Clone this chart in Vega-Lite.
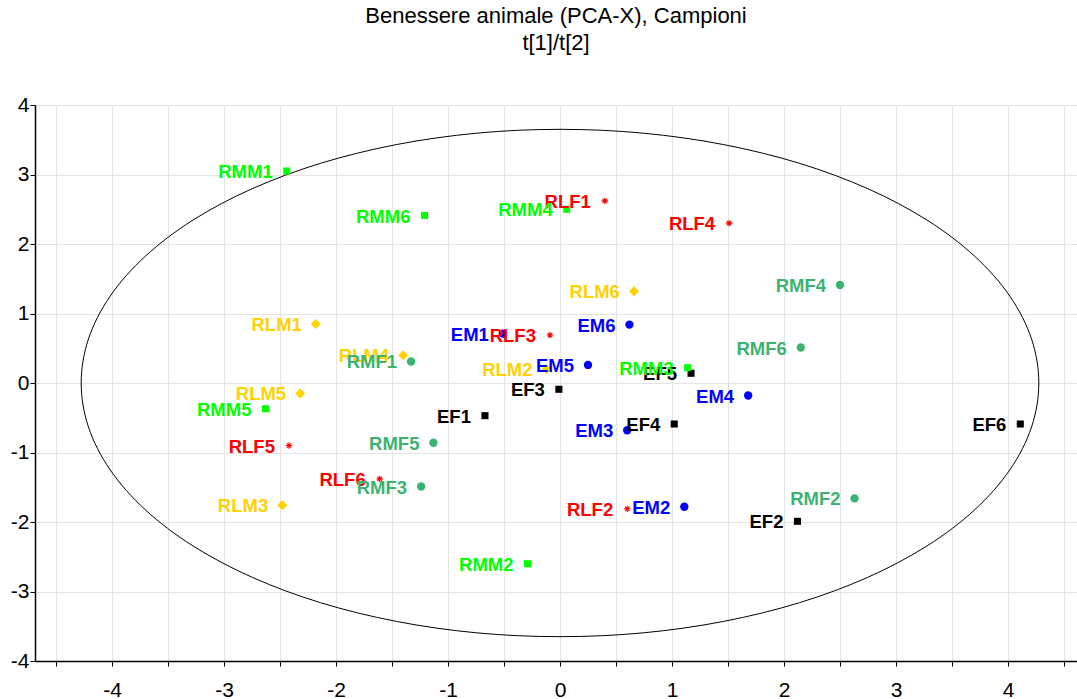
{
  "$schema": "https://vega.github.io/schema/vega-lite/v6.json",
  "width": 1042,
  "height": 556,
  "autosize": {"type": "none"},
  "padding": {"left": 35, "top": 105, "right": 0, "bottom": 38},
  "background": "white",
  "title": {
    "text": ["Benessere animale (PCA-X), Campioni", "t[1]/t[2]"],
    "font": "Liberation Sans",
    "fontSize": 22,
    "fontWeight": "normal",
    "lineHeight": 27,
    "offset": 39,
    "frame": "group",
    "anchor": "middle",
    "color": "black"
  },
  "config": {
    "view": {"stroke": null},
    "axis": {
      "labelFont": "Liberation Sans",
      "labelFontSize": 21,
      "labelColor": "black",
      "domainColor": "black",
      "domainWidth": 1.5,
      "tickColor": "black",
      "tickSize": 5,
      "gridColor": "#e4e4e4",
      "gridWidth": 1
    }
  },
  "datasets": {
    "points": [
      {"label": "EF1", "group": "EF", "x": -0.67, "y": -0.47},
      {"label": "EF2", "group": "EF", "x": 2.12, "y": -1.99},
      {"label": "EF3", "group": "EF", "x": -0.01, "y": -0.09},
      {"label": "EF4", "group": "EF", "x": 1.02, "y": -0.59},
      {"label": "EF5", "group": "EF", "x": 1.17, "y": 0.14},
      {"label": "EF6", "group": "EF", "x": 4.11, "y": -0.59},
      {"label": "EM1", "group": "EM", "x": -0.51, "y": 0.71},
      {"label": "EM2", "group": "EM", "x": 1.11, "y": -1.78},
      {"label": "EM3", "group": "EM", "x": 0.60, "y": -0.68},
      {"label": "EM4", "group": "EM", "x": 1.68, "y": -0.18},
      {"label": "EM5", "group": "EM", "x": 0.25, "y": 0.26},
      {"label": "EM6", "group": "EM", "x": 0.62, "y": 0.84},
      {"label": "RLF1", "group": "RLF", "x": 0.40, "y": 2.62},
      {"label": "RLF2", "group": "RLF", "x": 0.60, "y": -1.81},
      {"label": "RLF3", "group": "RLF", "x": -0.09, "y": 0.69},
      {"label": "RLF4", "group": "RLF", "x": 1.51, "y": 2.30},
      {"label": "RLF5", "group": "RLF", "x": -2.42, "y": -0.90},
      {"label": "RLF6", "group": "RLF", "x": -1.61, "y": -1.38},
      {"label": "RLM1", "group": "RLM", "x": -2.18, "y": 0.85},
      {"label": "RLM2", "group": "RLM", "x": -0.12, "y": 0.20},
      {"label": "RLM3", "group": "RLM", "x": -2.48, "y": -1.76},
      {"label": "RLM4", "group": "RLM", "x": -1.40, "y": 0.40},
      {"label": "RLM5", "group": "RLM", "x": -2.32, "y": -0.15},
      {"label": "RLM6", "group": "RLM", "x": 0.66, "y": 1.32},
      {"label": "RMF1", "group": "RMF", "x": -1.33, "y": 0.31},
      {"label": "RMF2", "group": "RMF", "x": 2.63, "y": -1.66},
      {"label": "RMF3", "group": "RMF", "x": -1.24, "y": -1.49},
      {"label": "RMF4", "group": "RMF", "x": 2.50, "y": 1.41},
      {"label": "RMF5", "group": "RMF", "x": -1.13, "y": -0.86},
      {"label": "RMF6", "group": "RMF", "x": 2.15, "y": 0.51},
      {"label": "RMM1", "group": "RMM", "x": -2.44, "y": 3.05},
      {"label": "RMM2", "group": "RMM", "x": -0.29, "y": -2.60},
      {"label": "RMM3", "group": "RMM", "x": 1.14, "y": 0.22},
      {"label": "RMM4", "group": "RMM", "x": 0.06, "y": 2.50},
      {"label": "RMM5", "group": "RMM", "x": -2.63, "y": -0.37},
      {"label": "RMM6", "group": "RMM", "x": -1.21, "y": 2.41}
    ],
    "ellipse": [
      {"i": 0, "x": 4.275, "y": 0},
      {"i": 1, "x": 4.21, "y": 0.634},
      {"i": 2, "x": 4.017, "y": 1.248},
      {"i": 3, "x": 3.702, "y": 1.825},
      {"i": 4, "x": 3.275, "y": 2.346},
      {"i": 5, "x": 2.748, "y": 2.796},
      {"i": 6, "x": 2.138, "y": 3.161},
      {"i": 7, "x": 1.462, "y": 3.43},
      {"i": 8, "x": 0.742, "y": 3.595},
      {"i": 9, "x": 0, "y": 3.65},
      {"i": 10, "x": -0.742, "y": 3.595},
      {"i": 11, "x": -1.462, "y": 3.43},
      {"i": 12, "x": -2.138, "y": 3.161},
      {"i": 13, "x": -2.748, "y": 2.796},
      {"i": 14, "x": -3.275, "y": 2.346},
      {"i": 15, "x": -3.702, "y": 1.825},
      {"i": 16, "x": -4.017, "y": 1.248},
      {"i": 17, "x": -4.21, "y": 0.634},
      {"i": 18, "x": -4.275, "y": 0},
      {"i": 19, "x": -4.21, "y": -0.634},
      {"i": 20, "x": -4.017, "y": -1.248},
      {"i": 21, "x": -3.702, "y": -1.825},
      {"i": 22, "x": -3.275, "y": -2.346},
      {"i": 23, "x": -2.748, "y": -2.796},
      {"i": 24, "x": -2.138, "y": -3.161},
      {"i": 25, "x": -1.462, "y": -3.43},
      {"i": 26, "x": -0.742, "y": -3.595},
      {"i": 27, "x": 0, "y": -3.65},
      {"i": 28, "x": 0.742, "y": -3.595},
      {"i": 29, "x": 1.462, "y": -3.43},
      {"i": 30, "x": 2.138, "y": -3.161},
      {"i": 31, "x": 2.748, "y": -2.796},
      {"i": 32, "x": 3.275, "y": -2.346},
      {"i": 33, "x": 3.702, "y": -1.825},
      {"i": 34, "x": 4.017, "y": -1.248},
      {"i": 35, "x": 4.21, "y": -0.634}
    ]
  },
  "layer": [
    {
      "data": {"name": "ellipse"},
      "mark": {"type": "line", "interpolate": "cardinal-closed", "color": "black", "strokeWidth": 1, "clip": true},
      "encoding": {
        "x": {
          "field": "x", "type": "quantitative", "title": null,
          "scale": {"domain": [-4.6875, 4.616], "nice": false, "zero": false},
          "axis": {
            "values": [-4.5, -4, -3.5, -3, -2.5, -2, -1.5, -1, -0.5, 0, 0.5, 1, 1.5, 2, 2.5, 3, 3.5, 4, 4.5],
            "labelExpr": "datum.value % 1 === 0 ? '' + datum.value : ''",
            "labelPadding": 13,
            "grid": true
          }
        },
        "y": {
          "field": "y", "type": "quantitative", "title": null,
          "scale": {"domain": [-4, 4], "nice": false, "zero": false},
          "axis": {
            "values": [-4, -3.5, -3, -2.5, -2, -1.5, -1, -0.5, 0, 0.5, 1, 1.5, 2, 2.5, 3, 3.5, 4],
            "labelExpr": "datum.value % 1 === 0 ? '' + datum.value : ''",
            "labelPadding": 1,
            "grid": true,
            "gridOpacity": {"condition": {"test": "datum.value % 1 !== 0", "value": 0}, "value": 1}
          }
        },
        "order": {"field": "i", "type": "quantitative"}
      }
    },
    {
      "mark": {"type": "rule", "color": "#333333", "strokeWidth": 1},
      "encoding": {"x": {"datum": 0, "type": "quantitative"}}
    },
    {
      "mark": {"type": "rule", "color": "#333333", "strokeWidth": 1},
      "encoding": {"y": {"datum": 0, "type": "quantitative"}}
    },
    {
      "mark": {"type": "rule", "color": "black", "strokeWidth": 1.5},
      "encoding": {"y": {"datum": 4, "type": "quantitative"}}
    },
    {
      "data": {"name": "points"},
      "transform": [{"filter": "datum.group === 'EF' || datum.group === 'RMM'"}],
      "mark": {"type": "point", "filled": true, "opacity": 1, "shape": "square", "size": 50},
      "encoding": {
        "x": {"field": "x", "type": "quantitative", "title": null},
        "y": {"field": "y", "type": "quantitative", "title": null},
        "color": {
          "field": "group", "type": "nominal", "legend": null,
          "scale": {"domain": ["EF", "EM", "RLF", "RLM", "RMF", "RMM"], "range": ["#000000", "#0000FF", "#FF0000", "#FFD200", "#3CB371", "#00FF00"]}
        }
      }
    },
    {
      "data": {"name": "points"},
      "transform": [{"filter": "datum.group === 'EM' || datum.group === 'RMF'"}],
      "mark": {"type": "point", "filled": true, "opacity": 1, "shape": "circle", "size": 70},
      "encoding": {
        "x": {"field": "x", "type": "quantitative", "title": null},
        "y": {"field": "y", "type": "quantitative", "title": null},
        "color": {"field": "group", "type": "nominal", "legend": null}
      }
    },
    {
      "data": {"name": "points"},
      "transform": [{"filter": "datum.group === 'RLM'"}],
      "mark": {"type": "point", "filled": true, "opacity": 1, "shape": "diamond", "size": 100, "color": "#FFD200"},
      "encoding": {
        "x": {"field": "x", "type": "quantitative", "title": null},
        "y": {"field": "y", "type": "quantitative", "title": null}
      }
    },
    {
      "data": {"name": "points"},
      "transform": [{"filter": "datum.group === 'RLF'"}],
      "mark": {"type": "point", "filled": false, "color": "#FF0000", "strokeWidth": 1.1, "size": 42, "opacity": 1,
        "shape": "M-1,0L1,0M0,-1L0,1M-0.7,-0.7L0.7,0.7M-0.7,0.7L0.7,-0.7"},
      "encoding": {
        "x": {"field": "x", "type": "quantitative", "title": null},
        "y": {"field": "y", "type": "quantitative", "title": null}
      }
    },
    {
      "data": {"name": "points"},
      "mark": {"type": "text", "align": "right", "baseline": "middle", "dx": -14, "dy": 1, "font": "Liberation Sans", "fontSize": 18.5, "fontWeight": "bold"},
      "encoding": {
        "x": {"field": "x", "type": "quantitative", "title": null},
        "y": {"field": "y", "type": "quantitative", "title": null},
        "text": {"field": "label"},
        "color": {"field": "group", "type": "nominal", "legend": null}
      }
    }
  ]
}
